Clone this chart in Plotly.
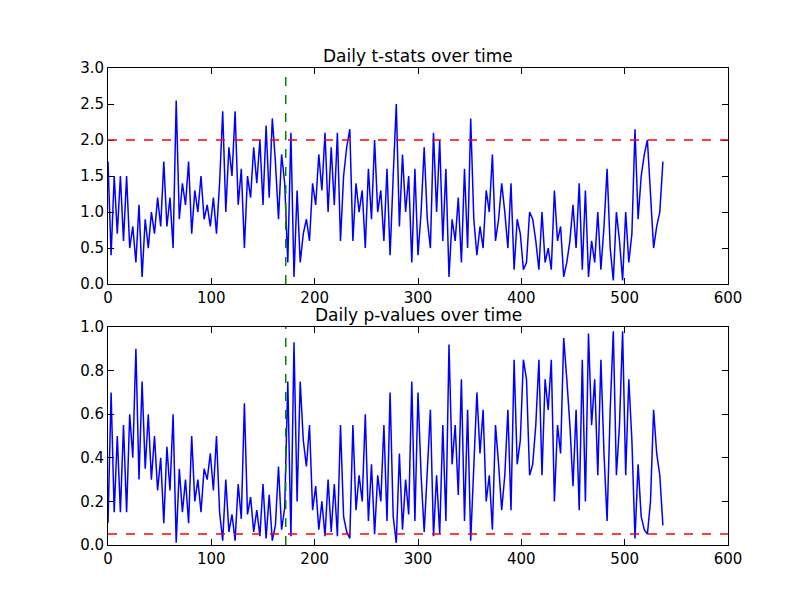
import plotly.graph_objects as go
from plotly.subplots import make_subplots

days = list(range(0, 540, 3))

t_stats = [
    1.7, 0.4, 1.5, 0.7, 1.5, 0.6, 1.5, 0.5, 0.8, 0.3,
    1.1, 0.1, 0.9, 0.5, 1.0, 0.7, 1.2, 0.8, 1.7, 0.8,
    1.2, 0.5, 2.55, 0.9, 1.4, 1.1, 1.7, 0.7, 1.3, 1.0,
    1.5, 0.9, 1.1, 0.8, 1.2, 0.7, 1.4, 2.4, 1.0, 1.9,
    1.5, 2.4, 1.1, 1.6, 0.5, 1.5, 1.2, 1.9, 1.4, 2.0,
    1.1, 2.2, 1.2, 2.3, 1.7, 0.9, 1.8, 1.4, 0.3, 2.1,
    0.1, 1.3, 0.3, 0.7, 0.9, 0.6, 1.4, 1.1, 1.8, 1.3,
    2.1, 1.0, 1.9, 1.1, 2.1, 0.6, 1.5, 1.9, 2.15, 0.6,
    1.4, 1.0, 1.3, 0.5, 1.6, 0.9, 2.0, 1.0, 1.3, 0.6,
    1.6, 0.4, 1.5, 2.5, 0.8, 1.8, 1.0, 1.5, 0.3, 1.6,
    0.4, 1.0, 1.9, 0.9, 0.5, 2.1, 1.0, 2.0, 0.6, 1.6,
    0.1, 0.9, 0.6, 1.2, 0.3, 1.6, 0.5, 2.3, 0.9, 0.4,
    0.8, 0.5, 1.3, 1.0, 1.8, 0.6, 0.9, 1.4, 1.0, 0.5,
    1.4, 0.2, 0.9, 0.7, 0.2, 0.3, 1.0, 0.9, 0.6, 0.2,
    1.0, 0.3, 0.5, 0.2, 1.3, 0.6, 0.8, 0.1, 0.3, 0.6,
    1.1, 0.5, 1.4, 0.2, 1.3, 0.1, 0.6, 0.3, 1.0, 0.2,
    0.8, 1.6, 0.5, 0.05, 1.0, 0.6, 0.05, 1.0, 0.3, 0.7,
    2.15, 0.9, 1.5, 1.8, 2.0, 1.3, 0.5, 0.8, 1.0, 1.7,
]

p_values = [
    0.1, 0.7, 0.15, 0.5, 0.15, 0.55, 0.15, 0.6, 0.4, 0.9,
    0.3, 0.75, 0.35, 0.6, 0.3, 0.5, 0.25, 0.4, 0.1, 0.45,
    0.25, 0.6, 0.01, 0.35, 0.15, 0.3, 0.1, 0.5, 0.2, 0.3,
    0.15, 0.35, 0.3, 0.42, 0.25, 0.5, 0.15, 0.02, 0.3, 0.06,
    0.14, 0.02, 0.28, 0.12, 0.65, 0.14, 0.22, 0.06, 0.16, 0.04,
    0.28, 0.03, 0.23, 0.02, 0.09, 0.36, 0.07, 0.17, 0.75, 0.04,
    0.93, 0.2, 0.75, 0.48, 0.36, 0.55, 0.16, 0.27, 0.07, 0.2,
    0.04, 0.3, 0.06, 0.28, 0.04, 0.55, 0.13, 0.06, 0.03, 0.55,
    0.16, 0.32, 0.2, 0.6, 0.11, 0.37, 0.05, 0.32, 0.2, 0.55,
    0.11, 0.7, 0.13, 0.01, 0.42, 0.07, 0.3, 0.14, 0.75, 0.11,
    0.7, 0.32, 0.06, 0.37, 0.62, 0.04, 0.32, 0.05, 0.55, 0.11,
    0.92, 0.37, 0.55, 0.23, 0.76, 0.11, 0.62, 0.02, 0.37, 0.7,
    0.42, 0.62, 0.2, 0.32, 0.07, 0.55, 0.37, 0.16, 0.32, 0.62,
    0.16, 0.85, 0.37, 0.48, 0.85, 0.76, 0.32, 0.37, 0.55, 0.85,
    0.32, 0.76, 0.62, 0.85, 0.2, 0.55, 0.42, 0.95, 0.76, 0.55,
    0.27, 0.62, 0.16, 0.85, 0.2, 0.97, 0.55, 0.76, 0.32, 0.85,
    0.42, 0.11, 0.62, 0.98, 0.32, 0.55, 0.98, 0.32, 0.76, 0.48,
    0.03, 0.37, 0.13, 0.07, 0.05, 0.2, 0.62, 0.42, 0.32, 0.09,
]

t_threshold = 2.0
p_threshold = 0.05
split_day = 172

fig = make_subplots(rows=2, cols=1, vertical_spacing=0.09)
fig.add_trace(go.Scatter(x=days, y=t_stats, mode='lines',
                         line=dict(color='blue', width=1.5)), row=1, col=1)
fig.add_trace(go.Scatter(x=days, y=p_values, mode='lines',
                         line=dict(color='blue', width=1.5)), row=2, col=1)

for r, thr, ytop in [(1, t_threshold, 3), (2, p_threshold, 1)]:
    fig.add_shape(type='line', x0=0, x1=600, y0=thr, y1=thr,
                  line=dict(color='red', width=1.5, dash='dash'), row=r, col=1)
    fig.add_shape(type='line', x0=split_day, x1=split_day, y0=0, y1=ytop,
                  line=dict(color='#008000', width=1.5, dash='dash'), row=r, col=1)

axis_style = dict(showgrid=False, zeroline=False, showline=True, linecolor='black',
                  linewidth=1, mirror='ticks', ticks='inside', ticklen=6,
                  tickcolor='black', tickfont=dict(size=15, color='black'))
fig.update_xaxes(range=[0, 600], dtick=100, **axis_style)
fig.update_yaxes(**axis_style)
fig.update_yaxes(range=[0, 3], dtick=0.5, tickformat='.1f', row=1, col=1)
fig.update_yaxes(range=[0, 1], dtick=0.2, tickformat='.1f', row=2, col=1)
fig.update_layout(
    yaxis=dict(domain=[0.547, 1]),
    yaxis2=dict(domain=[0, 0.457]),
    width=800, height=597, showlegend=False,
    margin=dict(l=100, r=80, t=60, b=60, autoexpand=False),
    plot_bgcolor='white', paper_bgcolor='white',
    font=dict(family='DejaVu Sans', color='black'),
    annotations=[
        dict(text='Daily t-stats over time', x=0.5, y=1, xref='paper', yref='paper',
             xanchor='center', yanchor='bottom', showarrow=False, font=dict(size=17)),
        dict(text='Daily p-values over time', x=0.5, y=0.457, xref='paper', yref='paper',
             xanchor='center', yanchor='bottom', showarrow=False, font=dict(size=17)),
    ],
)
fig.write_html("out.html")
